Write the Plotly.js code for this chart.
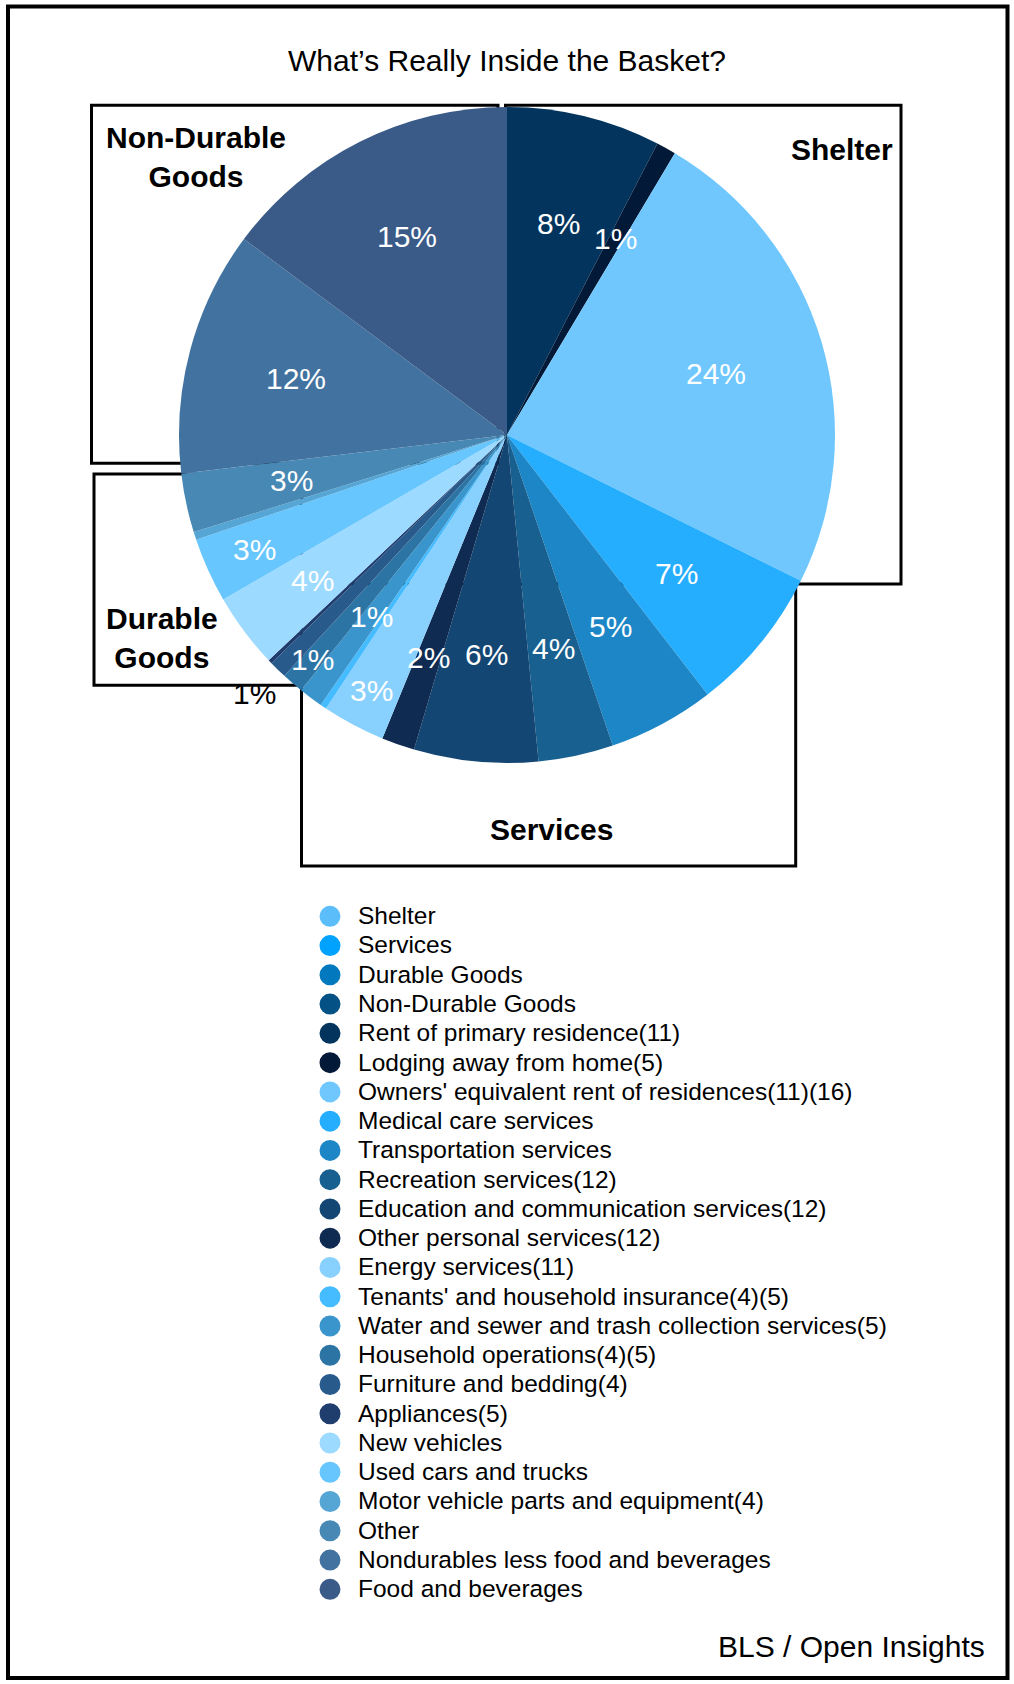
<!DOCTYPE html>
<html>
<head>
<meta charset="utf-8">
<script src="https://cdn.plot.ly/plotly-3.0.1.min.js"></script>
<style>
html, body { margin: 0; padding: 0; background: #ffffff; }
#chart { width: 1014px; height: 1684px; }
.legend .legendtext { font-size: 24.5px !important; }
.legend .scrollbox { clip-path: none !important; }
</style>
</head>
<body>
<div id="chart"></div>
<script>
// ---------- data ----------
const categories = [
  "Rent of primary residence(11)",
  "Lodging away from home(5)",
  "Owners' equivalent rent of residences(11)(16)",
  "Medical care services",
  "Transportation services",
  "Recreation services(12)",
  "Education and communication services(12)",
  "Other personal services(12)",
  "Energy services(11)",
  "Tenants' and household insurance(4)(5)",
  "Water and sewer and trash collection services(5)",
  "Household operations(4)(5)",
  "Furniture and bedding(4)",
  "Appliances(5)",
  "New vehicles",
  "Used cars and trucks",
  "Motor vehicle parts and equipment(4)",
  "Other",
  "Nondurables less food and beverages",
  "Food and beverages"
];
const weights = [
  7.58, 0.97, 23.78, 7.19, 5.25, 3.69, 6.11, 1.63, 3.10, 0.31,
  1.19, 1.07, 0.88, 0.19, 3.69, 3.19, 0.39, 2.90, 12.07, 14.81
];
const groups = ["Shelter", "Services", "Durable Goods", "Non-Durable Goods"];
const groupLabels = ["Non-Durable<br>Goods", "Shelter", "Durable<br>Goods", "Services"];
const titleText = "What’s Really Inside the Basket?";
const sourceText = "BLS / Open Insights";

// ---------- styles ----------
const sliceColors = [
  "#02345e", "#021a38", "#6fc7fe", "#25adfe", "#1d86c6", "#176090",
  "#134672", "#0f2b52", "#88d0fe", "#45bcff", "#3a95cc", "#2c74a4",
  "#285b8c", "#1f3e6e", "#9ddaff", "#67c6fd", "#55a5d5", "#4788b4",
  "#4273a0", "#3a5a88"
];
const groupColors = ["#5bbefa", "#00a2ff", "#0279be", "#035185"];
// radial position of each percent label, as a fraction of the radius
const labelRadius = [
  0.665, 0.684, 0.665, 0.668, 0.664, 0.666, 0.671, 0.72, 0.883, 0.7,
  0.69, 0.905, 1.10, 0.7, 0.74, 0.845, 0.7, 0.672, 0.666, 0.678
];

const W = 1014, H = 1684;
const CX = 507, CY = 435, R = 328;
const FONT = '"Liberation Sans", Arial, Helvetica, sans-serif';
const px = v => v / W;
const py = v => 1 - v / H;

// ---------- percent labels ----------
const total = weights.reduce((a, b) => a + b, 0);
const annotations = [];
let cum = 0;
weights.forEach((w, i) => {
  const mid = (cum + w / 2) / total * 2 * Math.PI;
  cum += w;
  const pct = Math.round(100 * w / total);
  if (pct < 1) return;
  const rf = labelRadius[i];
  annotations.push({
    xref: "paper", yref: "paper",
    x: px(CX + rf * R * Math.sin(mid)),
    y: py(CY - rf * R * Math.cos(mid)),
    text: pct + "%", showarrow: false,
    xanchor: "center", yanchor: "middle",
    font: { family: FONT, size: 30, color: rf > 1 ? "#000000" : "#ffffff" }
  });
});

// ---------- group labels and boxes ----------
const groupPos = [[196, 157], [842, 149.5], [161.7, 637.5], [551.6, 829.3]];
groupLabels.forEach((t, i) => {
  annotations.push({
    xref: "paper", yref: "paper",
    x: px(groupPos[i][0]), y: py(groupPos[i][1]),
    text: t, showarrow: false, xanchor: "center", yanchor: "middle",
    font: { family: FONT, size: 30, color: "#000000", weight: "bold" }
  });
});
annotations.push({
  xref: "paper", yref: "paper", x: px(987), y: py(1646),
  text: sourceText, showarrow: false, xanchor: "right", yanchor: "middle",
  font: { family: FONT, size: 30, color: "#000000" }
});

function box(x0, y0, x1, y1, w) {
  return {
    type: "rect", xref: "paper", yref: "paper", layer: "below",
    x0: px(x0), x1: px(x1), y0: py(y0), y1: py(y1),
    line: { color: "#000000", width: w }, fillcolor: "rgba(0,0,0,0)"
  };
}
const shapes = [
  box(8, 6.5, 1007.5, 1678, 4),
  box(91.5, 105.3, 498, 463.3, 3),
  box(505.5, 105.3, 901, 584, 3),
  box(301.5, 584, 795.7, 866, 3),
  box(94, 474, 301.5, 685.3, 3)
];

// ---------- traces ----------
const pie = {
  type: "pie",
  labels: categories,
  values: weights,
  sort: false,
  direction: "clockwise",
  rotation: 0,
  marker: { colors: sliceColors, line: { width: 0 } },
  textinfo: "none",
  hoverinfo: "label+percent",
  showlegend: false,
  domain: { x: [px(CX - R), px(CX + R)], y: [py(CY + R), py(CY - R)] }
};

const legendNames = groups.concat(categories);
const legendColors = groupColors.concat(sliceColors);
const legendTraces = legendNames.map((name, i) => ({
  type: "scatter", mode: "markers", x: [null], y: [null], name: name,
  marker: { color: legendColors[i], size: 16, line: { color: legendColors[i], width: 5 } },
  hoverinfo: "skip", showlegend: true
}));

const layout = {
  width: W, height: H,
  margin: { l: 0, r: 0, t: 0, b: 0 },
  paper_bgcolor: "#ffffff", plot_bgcolor: "rgba(0,0,0,0)",
  font: { family: FONT, color: "#000000" },
  title: {
    text: titleText, font: { family: FONT, size: 30, color: "#000000" },
    x: 0.5, xanchor: "center", xref: "paper",
    y: 1 - 60 / H, yref: "container", yanchor: "middle"
  },
  xaxis: { visible: false }, yaxis: { visible: false },
  showlegend: true,
  legend: {
    x: px(302), xanchor: "left", y: py(896.7), yanchor: "top",
    font: { family: FONT, size: 20.2, color: "#000000" },
    itemwidth: 46, bgcolor: "rgba(0,0,0,0)", borderwidth: 0,
    traceorder: "normal", itemclick: false, itemdoubleclick: false
  },
  shapes: shapes,
  annotations: annotations
};

Plotly.newPlot("chart", [pie].concat(legendTraces), layout, { displayModeBar: false, staticPlot: true });
</script>
</body>
</html>
